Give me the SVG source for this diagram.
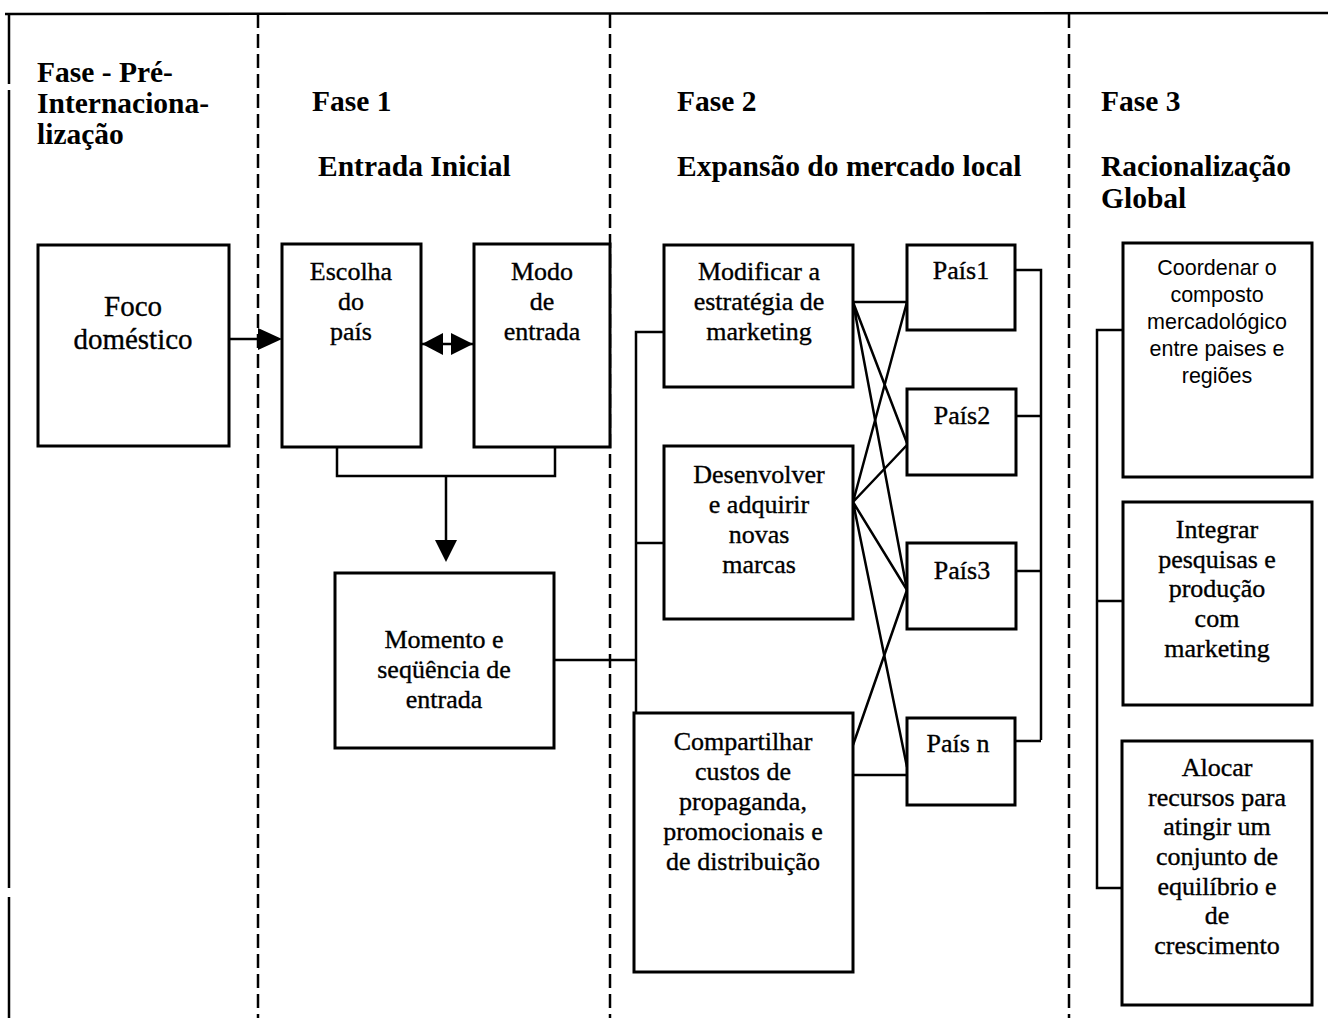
<svg xmlns="http://www.w3.org/2000/svg" width="1328" height="1018" viewBox="0 0 1328 1018">
  <style>
    .box { fill: #fff; stroke: #000; stroke-width: 3; }
    .line { fill: none; stroke: #000; stroke-width: 2.5; }
    .head { fill: #000; stroke: none; }
    .sep { fill: none; stroke: #000; stroke-width: 2.5; stroke-dasharray: 14 6; }
    .hdr { font-family: "Liberation Serif", "Times New Roman", serif; font-weight: bold; font-size: 29.5px; fill: #000; }
    .t { font-family: "Liberation Serif", "Times New Roman", serif; font-size: 26px; fill: #000; stroke: #000; stroke-width: 0.35; text-anchor: middle; }
    .big { font-size: 29px; }
    .ts { font-family: "Liberation Sans", Arial, sans-serif; font-size: 21.5px; fill: #000; text-anchor: middle; }
  </style>
  <rect width="1328" height="1018" fill="#fff"/>

  <!-- frame: top rule, left border, phase separators -->
  <g id="frame">
    <path d="M5,14 L1328,13" class="line" stroke-width="4"/>
    <path d="M9,14 V84 M9,90 V888 M9,897 V1018" class="line"/>
    <path d="M258,14 V1018" class="sep"/>
    <path d="M610,14 V1018" class="sep"/>
    <path d="M1069,14 V1018" class="sep"/>
  </g>

  <!-- phase headers -->
  <g id="headers">
    <text class="hdr" x="37" y="82">Fase - Pré-</text>
    <text class="hdr" x="37" y="113">Internaciona-</text>
    <text class="hdr" x="37" y="144">lização</text>
    <text class="hdr" x="312" y="111">Fase 1</text>
    <text class="hdr" x="318" y="176">Entrada Inicial</text>
    <text class="hdr" x="677" y="111">Fase 2</text>
    <text class="hdr" x="677" y="176">Expansão do mercado local</text>
    <text class="hdr" x="1101" y="111">Fase 3</text>
    <text class="hdr" x="1101" y="176">Racionalização</text>
    <text class="hdr" x="1101" y="208">Global</text>
  </g>

  <!-- connectors -->
  <g id="connectors">
    <!-- Foco doméstico -> Escolha do país -->
    <path d="M229,339 H260" class="line"/>
    <path d="M258,328 L282,339 L258,350 Z" class="head"/>
    <!-- Escolha <-> Modo -->
    <path d="M422,344 H473" class="line"/>
    <path d="M422,344 L443,333 L443,355 Z" class="head"/>
    <path d="M473,344 L451,333 L451,355 Z" class="head"/>
    <!-- merge down to Momento -->
    <path d="M337,447 V476 H555 V447" class="line"/>
    <path d="M446,476 V545" class="line"/>
    <path d="M435,540 L457,540 L446,562 Z" class="head"/>
    <!-- Momento -> phase 2 bus -->
    <path d="M554,660 H636" class="line"/>
    <path d="M664,332 H636 V713" class="line"/>
    <path d="M636,543 H664" class="line"/>
    <!-- strategies x countries -->
    <path d="M853,302 H907 M853,302 L907,443 M853,302 L907,590" class="line"/>
    <path d="M853,502 L907,302 M853,502 L907,445 M853,502 L907,590 M853,502 L907,767" class="line"/>
    <path d="M853,745 L907,590 M853,775 H907" class="line"/>
    <!-- countries -> right bus -->
    <path d="M1016,270 H1041 V740 M1016,416 H1041 M1016,571 H1041 M1016,741 H1041" class="line"/>
    <!-- phase 3 bus -->
    <path d="M1123,330 H1097 V888 H1123 M1097,601 H1123" class="line"/>
  </g>

  <!-- pre-internationalisation -->
  <g id="foco">
    <rect class="box" x="38" y="245" width="191" height="201"/>
    <text class="t big" x="133" y="316">Foco</text>
    <text class="t big" x="133" y="349">doméstico</text>
  </g>

  <!-- phase 1 -->
  <g id="escolha">
    <rect class="box" x="282" y="244" width="139" height="203"/>
    <text class="t" x="351" y="280">Escolha</text>
    <text class="t" x="351" y="310">do</text>
    <text class="t" x="351" y="340">país</text>
  </g>
  <g id="modo">
    <rect class="box" x="474" y="244" width="136" height="203"/>
    <text class="t" x="542" y="280">Modo</text>
    <text class="t" x="542" y="310">de</text>
    <text class="t" x="542" y="340">entrada</text>
  </g>
  <g id="momento">
    <rect class="box" x="335" y="573" width="219" height="175"/>
    <text class="t" x="444" y="648">Momento e</text>
    <text class="t" x="444" y="678">seqüência de</text>
    <text class="t" x="444" y="708">entrada</text>
  </g>

  <!-- phase 2 -->
  <g id="modificar">
    <rect class="box" x="664" y="245" width="189" height="142"/>
    <text class="t" x="759" y="280">Modificar a</text>
    <text class="t" x="759" y="310">estratégia de</text>
    <text class="t" x="759" y="340">marketing</text>
  </g>
  <g id="desenvolver">
    <rect class="box" x="664" y="446" width="189" height="173"/>
    <text class="t" x="759" y="483">Desenvolver</text>
    <text class="t" x="759" y="513">e adquirir</text>
    <text class="t" x="759" y="543">novas</text>
    <text class="t" x="759" y="573">marcas</text>
  </g>
  <g id="compartilhar">
    <rect class="box" x="634" y="713" width="219" height="259"/>
    <text class="t" x="743" y="750">Compartilhar</text>
    <text class="t" x="743" y="780">custos de</text>
    <text class="t" x="743" y="810">propaganda,</text>
    <text class="t" x="743" y="840">promocionais e</text>
    <text class="t" x="743" y="870">de distribuição</text>
  </g>
  <g id="pais1">
    <rect class="box" x="907" y="245" width="108" height="85"/>
    <text class="t" x="961" y="279">País1</text>
  </g>
  <g id="pais2">
    <rect class="box" x="907" y="389" width="109" height="86"/>
    <text class="t" x="962" y="424">País2</text>
  </g>
  <g id="pais3">
    <rect class="box" x="907" y="543" width="109" height="86"/>
    <text class="t" x="962" y="579">País3</text>
  </g>
  <g id="paisn">
    <rect class="box" x="907" y="718" width="108" height="87"/>
    <text class="t" x="958" y="752">País n</text>
  </g>

  <!-- phase 3 -->
  <g id="coordenar">
    <rect class="box" x="1123" y="243" width="189" height="234"/>
    <text class="ts" x="1217" y="275">Coordenar o</text>
    <text class="ts" x="1217" y="302">composto</text>
    <text class="ts" x="1217" y="329">mercadológico</text>
    <text class="ts" x="1217" y="356">entre paises e</text>
    <text class="ts" x="1217" y="383">regiões</text>
  </g>
  <g id="integrar">
    <rect class="box" x="1123" y="502" width="189" height="203"/>
    <text class="t" x="1217" y="538">Integrar</text>
    <text class="t" x="1217" y="568">pesquisas e</text>
    <text class="t" x="1217" y="597">produção</text>
    <text class="t" x="1217" y="627">com</text>
    <text class="t" x="1217" y="657">marketing</text>
  </g>
  <g id="alocar">
    <rect class="box" x="1122" y="741" width="190" height="264"/>
    <text class="t" x="1217" y="776">Alocar</text>
    <text class="t" x="1217" y="806">recursos para</text>
    <text class="t" x="1217" y="835">atingir um</text>
    <text class="t" x="1217" y="865">conjunto de</text>
    <text class="t" x="1217" y="895">equilíbrio e</text>
    <text class="t" x="1217" y="924">de</text>
    <text class="t" x="1217" y="954">crescimento</text>
  </g>
</svg>
